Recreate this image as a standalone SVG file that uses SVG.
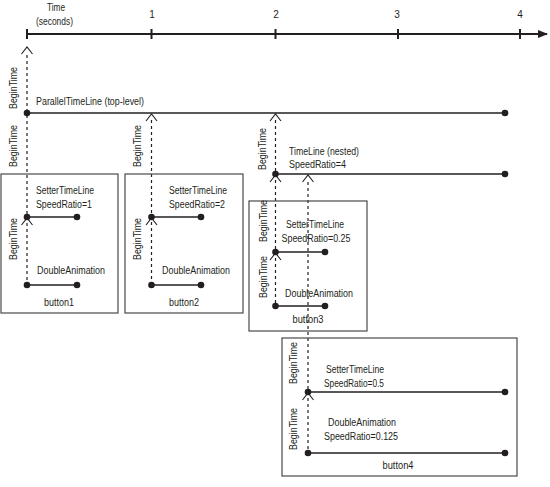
<svg xmlns="http://www.w3.org/2000/svg" width="550" height="487" viewBox="0 0 550 487">
<defs>
<style>
text{font-family:"Liberation Sans",Arial,sans-serif;font-size:10px;fill:#231f20}
.m{text-anchor:middle}
.box{fill:none;stroke:#4a4a4a;stroke-width:1.2}
.ln{stroke:#231f20;stroke-width:1.3;fill:none}
.ax{stroke:#231f20;stroke-width:2;fill:none}
.dash{stroke:#231f20;stroke-width:1.2;stroke-dasharray:3,3;fill:none}
.chev{stroke:#231f20;stroke-width:1.1;fill:none}
.dot{fill:#231f20}
</style>
<marker id="arr" markerWidth="10" markerHeight="8" refX="9" refY="4" orient="auto" markerUnits="userSpaceOnUse">
<path d="M0,0 L10,4 L0,8 Z" fill="#231f20"/>
</marker>
<path id="cv" d="M-5.5,7 L0,0 L5.5,7"/>
</defs>
<rect width="550" height="487" fill="#fff"/>

<g id="axis">
<line class="ax" x1="27" y1="34" x2="547" y2="34" marker-end="url(#arr)"/>
<path class="ax" d="M27,29V39M151.5,29V39M275.5,29V39M398,29V39M520,29V39"/>
<text class="m" x="56" y="11" textLength="18" lengthAdjust="spacingAndGlyphs">Time</text>
<text class="m" x="54.5" y="25" textLength="37" lengthAdjust="spacingAndGlyphs">(seconds)</text>
<text class="m" x="152" y="18">1</text>
<text class="m" x="276" y="18">2</text>
<text class="m" x="397" y="18">3</text>
<text class="m" x="520" y="18">4</text>
</g>

<g id="connectors">
<line class="dash" x1="27" y1="55" x2="27" y2="285"/>
<line class="dash" x1="151.5" y1="120" x2="151.5" y2="285"/>
<line class="dash" x1="275.5" y1="120" x2="275.5" y2="306"/>
<line class="dash" x1="308" y1="182" x2="308" y2="453"/>
<g class="chev">
<use href="#cv" x="27" y="47"/>
<use href="#cv" x="151.5" y="114"/>
<use href="#cv" x="275.5" y="114"/>
<use href="#cv" x="275.5" y="175"/>
<use href="#cv" x="308" y="175"/>
<use href="#cv" x="27" y="218"/>
<use href="#cv" x="151.5" y="218"/>
<use href="#cv" x="275.5" y="253"/>
<use href="#cv" x="308" y="393"/>
</g>
<g>
<text class="m" transform="translate(16.5,88) rotate(-90)" textLength="42" lengthAdjust="spacingAndGlyphs">BeginTime</text>
<text class="m" transform="translate(16.5,146) rotate(-90)" textLength="42" lengthAdjust="spacingAndGlyphs">BeginTime</text>
<text class="m" transform="translate(141,146) rotate(-90)" textLength="42" lengthAdjust="spacingAndGlyphs">BeginTime</text>
<text class="m" transform="translate(265.5,149) rotate(-90)" textLength="42" lengthAdjust="spacingAndGlyphs">BeginTime</text>
</g>
</g>

<g id="parallel">
<line class="ln" x1="27" y1="113" x2="505" y2="113"/>
<circle class="dot" cx="27" cy="113" r="3.3"/>
<circle class="dot" cx="505" cy="113" r="3.3"/>
<text x="36" y="105" textLength="108" lengthAdjust="spacingAndGlyphs">ParallelTimeLine (top-level)</text>
</g>

<g id="nested">
<line class="ln" x1="275.5" y1="174" x2="505" y2="174"/>
<circle class="dot" cx="275.5" cy="174" r="3.3"/>
<circle class="dot" cx="505" cy="174" r="3.3"/>
<text x="289" y="155" textLength="70" lengthAdjust="spacingAndGlyphs">TimeLine (nested)</text>
<text x="289" y="168" textLength="57" lengthAdjust="spacingAndGlyphs">SpeedRatio=4</text>
</g>

<g id="button1">
<rect class="box" x="1" y="174" width="117" height="139"/>
<text x="36" y="194" textLength="58" lengthAdjust="spacingAndGlyphs">SetterTimeLine</text>
<text x="36" y="208" textLength="56" lengthAdjust="spacingAndGlyphs">SpeedRatio=1</text>
<line class="ln" x1="27" y1="217" x2="77" y2="217"/>
<circle class="dot" cx="27" cy="217" r="3.3"/>
<circle class="dot" cx="77" cy="217" r="3.3"/>
<text class="m" transform="translate(16.5,239) rotate(-90)" textLength="42" lengthAdjust="spacingAndGlyphs">BeginTime</text>
<text x="37" y="274" textLength="68" lengthAdjust="spacingAndGlyphs">DoubleAnimation</text>
<line class="ln" x1="27" y1="285" x2="77" y2="285"/>
<circle class="dot" cx="27" cy="285" r="3.3"/>
<circle class="dot" cx="77" cy="285" r="3.3"/>
<text class="m" x="59" y="306" textLength="30" lengthAdjust="spacingAndGlyphs">button1</text>
</g>

<g id="button2">
<rect class="box" x="125" y="174" width="118" height="139"/>
<text x="169" y="194" textLength="58" lengthAdjust="spacingAndGlyphs">SetterTimeLine</text>
<text x="169" y="208" textLength="56" lengthAdjust="spacingAndGlyphs">SpeedRatio=2</text>
<line class="ln" x1="151.5" y1="217" x2="201" y2="217"/>
<circle class="dot" cx="151.5" cy="217" r="3.3"/>
<circle class="dot" cx="201" cy="217" r="3.3"/>
<text class="m" transform="translate(141,239) rotate(-90)" textLength="42" lengthAdjust="spacingAndGlyphs">BeginTime</text>
<text x="162" y="274" textLength="68" lengthAdjust="spacingAndGlyphs">DoubleAnimation</text>
<line class="ln" x1="151.5" y1="285" x2="201" y2="285"/>
<circle class="dot" cx="151.5" cy="285" r="3.3"/>
<circle class="dot" cx="201" cy="285" r="3.3"/>
<text class="m" x="184" y="306" textLength="30" lengthAdjust="spacingAndGlyphs">button2</text>
</g>

<g id="button3">
<rect class="box" x="249" y="201" width="118" height="130"/>
<text class="m" transform="translate(266.5,221) rotate(-90)" textLength="42" lengthAdjust="spacingAndGlyphs">BeginTime</text>
<text class="m" x="315" y="228" textLength="58" lengthAdjust="spacingAndGlyphs">SetterTimeLine</text>
<text class="m" x="316" y="242" textLength="69" lengthAdjust="spacingAndGlyphs">SpeedRatio=0.25</text>
<line class="ln" x1="275.5" y1="252" x2="325" y2="252"/>
<circle class="dot" cx="275.5" cy="252" r="3.3"/>
<circle class="dot" cx="325" cy="252" r="3.3"/>
<text class="m" transform="translate(266.5,277) rotate(-90)" textLength="42" lengthAdjust="spacingAndGlyphs">BeginTime</text>
<text class="m" x="319" y="297" textLength="68" lengthAdjust="spacingAndGlyphs">DoubleAnimation</text>
<line class="ln" x1="275.5" y1="306" x2="325" y2="306"/>
<circle class="dot" cx="275.5" cy="306" r="3.3"/>
<circle class="dot" cx="325" cy="306" r="3.3"/>
<text class="m" x="308" y="323" textLength="31" lengthAdjust="spacingAndGlyphs">button3</text>
</g>

<g id="button4">
<rect class="box" x="282" y="338" width="235" height="138"/>
<text class="m" transform="translate(296.5,363) rotate(-90)" textLength="42" lengthAdjust="spacingAndGlyphs">BeginTime</text>
<text class="m" x="355" y="373" textLength="58" lengthAdjust="spacingAndGlyphs">SetterTimeLine</text>
<text class="m" x="354" y="387" textLength="60" lengthAdjust="spacingAndGlyphs">SpeedRatio=0.5</text>
<line class="ln" x1="308" y1="392" x2="505" y2="392"/>
<circle class="dot" cx="308" cy="392" r="3.3"/>
<circle class="dot" cx="505" cy="392" r="3.3"/>
<text class="m" transform="translate(296.5,429) rotate(-90)" textLength="42" lengthAdjust="spacingAndGlyphs">BeginTime</text>
<text class="m" x="362" y="426" textLength="68" lengthAdjust="spacingAndGlyphs">DoubleAnimation</text>
<text class="m" x="361" y="440" textLength="74" lengthAdjust="spacingAndGlyphs">SpeedRatio=0.125</text>
<line class="ln" x1="308" y1="453" x2="505" y2="453"/>
<circle class="dot" cx="308" cy="453" r="3.3"/>
<circle class="dot" cx="505" cy="453" r="3.3"/>
<text class="m" x="398" y="469" textLength="31" lengthAdjust="spacingAndGlyphs">button4</text>
</g>
</svg>
